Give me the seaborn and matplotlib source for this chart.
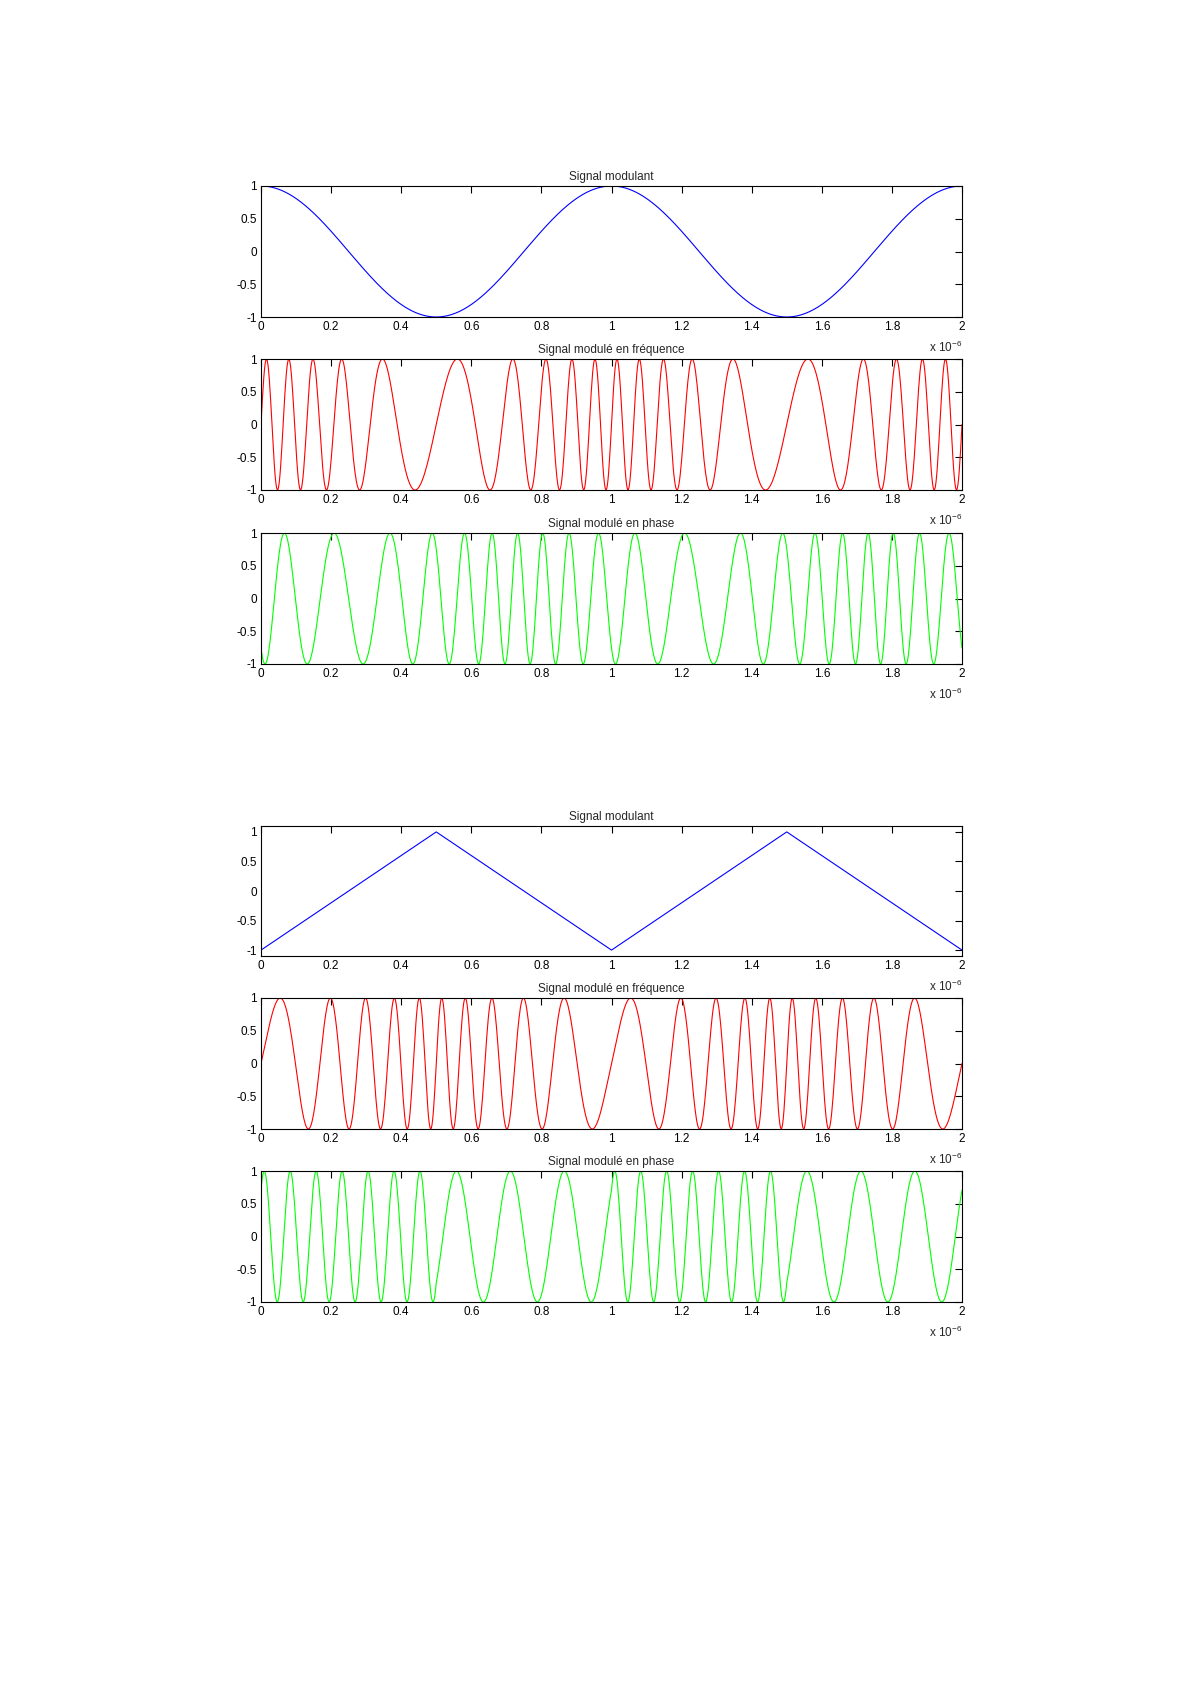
import numpy as np
import pandas as pd
import matplotlib
matplotlib.use("Agg")
import matplotlib.pyplot as plt
import seaborn as sns
from matplotlib.ticker import FixedLocator, FixedFormatter

# ---------------- values ----------------
t_end_us = 2.0            # time span (x 1e-6 s)
t_step_us = 0.002         # sampling step
f_mod_mhz = 1.0           # modulating frequency
f_carrier_mhz = 10.0      # carrier frequency
fm_dev_cos_mhz = 6.0      # FM deviation, cosine message
pm_idx_cos = 4.0          # PM index (rad), cosine message
fm_dev_tri_mhz = 6.1      # FM deviation, triangle message
pm_idx_tri = 5.5          # PM index (rad), triangle message
tri_knots_us = [0.0, 0.5, 1.0, 1.5, 2.0]
tri_values = [-1.0, 1.0, -1.0, 1.0, -1.0]

titles = ["Signal modulant", "Signal modulé en fréquence", "Signal modulé en phase"]
x_ticks_us = [0, 0.2, 0.4, 0.6, 0.8, 1.0, 1.2, 1.4, 1.6, 1.8, 2.0]
x_tick_labels = ["0", "0.2", "0.4", "0.6", "0.8", "1", "1.2", "1.4", "1.6", "1.8", "2"]
y_ticks = [-1, -0.5, 0, 0.5, 1]
y_tick_labels = ["-1", "-0.5", "0", "0.5", "1"]
colors = ["#0000FF", "#FF0000", "#00FF00"]

# ---------------- signals ----------------
t_us = np.arange(0, t_end_us + t_step_us / 2, t_step_us)
t_s = t_us * 1e-6

m_cos = np.cos(2 * np.pi * f_mod_mhz * t_us)
fm_cos = np.sin(2 * np.pi * f_carrier_mhz * t_us
                + (fm_dev_cos_mhz / f_mod_mhz) * np.sin(2 * np.pi * f_mod_mhz * t_us))
pm_cos = np.sin(2 * np.pi * f_carrier_mhz * t_us + pm_idx_cos * m_cos)

m_tri = np.interp(t_us, tri_knots_us, tri_values)
int_tri = np.concatenate([[0.0], np.cumsum((m_tri[1:] + m_tri[:-1]) / 2 * t_step_us)])
fm_tri = np.sin(2 * np.pi * f_carrier_mhz * t_us + 2 * np.pi * fm_dev_tri_mhz * int_tri)
pm_tri = np.sin(2 * np.pi * f_carrier_mhz * t_us + pm_idx_tri * m_tri)

df = pd.DataFrame({"t": t_s, "m_cos": m_cos, "fm_cos": fm_cos, "pm_cos": pm_cos,
                   "m_tri": m_tri, "fm_tri": fm_tri, "pm_tri": pm_tri})

# ---------------- figure ----------------
sns.set_style("white")
plt.rcParams["font.family"] = ["Liberation Sans", "DejaVu Sans"]
plt.rcParams["mathtext.fontset"] = "custom"
plt.rcParams["mathtext.rm"] = "Liberation Sans"
plt.rcParams["mathtext.it"] = "Liberation Sans"

W, H = 1190, 1684
fig = plt.figure(figsize=(W / 100, H / 100), dpi=100)
fig.patch.set_facecolor("white")

left_px, right_px = 261, 962
panels = [  # (top_px, bottom_px, column, color index, ylim)
    (186, 317, "m_cos", 0, (-1, 1)),
    (359, 490, "fm_cos", 1, (-1, 1)),
    (533, 664, "pm_cos", 2, (-1, 1)),
    (826, 956, "m_tri", 0, (-1.1, 1.1)),
    (998, 1129, "fm_tri", 1, (-1, 1)),
    (1171, 1302, "pm_tri", 2, (-1, 1)),
]

for i, (top, bot, col, ci, ylim) in enumerate(panels):
    ax = fig.add_axes([left_px / W, 1 - bot / H, (right_px - left_px) / W, (bot - top) / H])
    ax.set_facecolor("white")
    sns.lineplot(data=df, x="t", y=col, ax=ax, color=colors[ci], linewidth=0.8,
                 estimator=None, sort=False)
    ax.set_xlim(0, t_end_us * 1e-6)
    ax.set_ylim(*ylim)
    ax.xaxis.set_major_locator(FixedLocator([v * 1e-6 for v in x_ticks_us]))
    ax.xaxis.set_major_formatter(FixedFormatter(x_tick_labels))
    ax.yaxis.set_major_locator(FixedLocator(y_ticks))
    ax.yaxis.set_major_formatter(FixedFormatter(y_tick_labels))
    ax.set_xlabel("")
    ax.set_ylabel("")
    ax.tick_params(direction="in", length=5, width=0.8, top=True, right=True,
                   labelsize=8.5, colors="black", pad=3)
    for s in ax.spines.values():
        s.set_color("black")
        s.set_linewidth(0.8)
    ax.set_title(titles[i % 3], fontsize=8.5, pad=4)
    ax.text(1.0, -0.235, r"x 10$^{-6}$", transform=ax.transAxes, ha="right",
            va="center", fontsize=8.5)

fig.savefig("out.png", dpi=100, facecolor="white")
